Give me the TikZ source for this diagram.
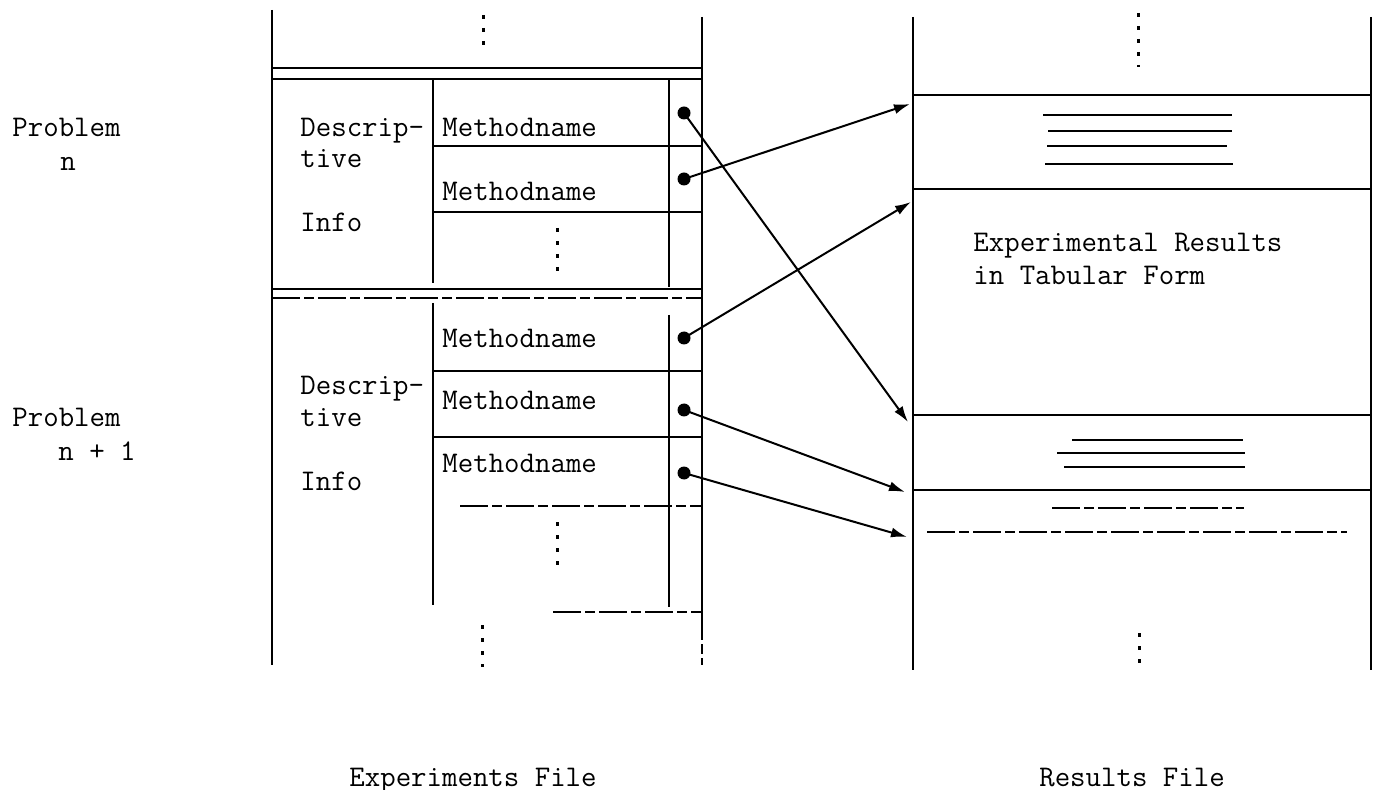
\documentclass[tikz,border=0pt]{standalone}
\usetikzlibrary{arrows.meta,positioning}
\tikzset{
  frame/.style={line width=1.2pt},
  cell/.style={line width=1pt},
  gap/.style={line width=1pt, dash pattern=on 14pt off 2pt on 5pt off 2pt},
  vdots/.style={line width=1.5pt, dash pattern=on 2pt off 4.5pt},
  rule/.style={line width=0.9pt},
  txt/.style={font=\fontsize{15}{18}\selectfont\ttfamily, inner sep=0pt, anchor=base west},
  filecap/.style={txt, anchor=base},
  ptr/.style={circle, fill=black, inner sep=0pt, minimum size=6.5pt},
  ar/.style={-{Latex[length=8pt,width=5pt]}, line width=1pt},
}
\begin{document}
\begin{tikzpicture}[x=0.5pt, y=-0.5pt]
\useasboundingbox (0,0) rectangle (1374,790);

% problem labels
\node[txt] (pN)   at (12,137) {Problem};
\node[txt] (pNn)  at (60,171) {n};
\node[txt] (pM)   at (12,427) {Problem};
\node[txt] (pMn)  at (58,460) {n + 1};

% experiments file
\draw[frame] (272,10) -- (272,665);
\draw[frame] (702,17) -- (702,612);
\draw[gap]   (702,612) -- (702,665);
\draw[vdots] (483,15) -- (483,52);
\draw[cell] (272,68) -- (702,68) (272,79) -- (702,79);
\draw[cell] (433,79) -- (433,283);
\draw[cell] (669,79) -- (669,287);
\draw[cell] (433,146) -- (702,146) (433,212) -- (702,212);
\draw[vdots] (557,228) -- (557,280);
\draw[cell] (272,289) -- (702,289);
\draw[gap]  (272,298) -- (702,298);
\draw[cell] (433,303) -- (433,605);
\draw[cell] (669,315) -- (669,607);
\draw[cell] (433,371) -- (702,371) (433,437) -- (702,437);
\draw[gap]  (460,506) -- (702,506);
\draw[gap]  (553,612) -- (702,612);
\draw[vdots] (557,522) -- (557,572);
\draw[vdots] (482,625) -- (482,667);

\node[txt] (dsA) at (300,137) {Descrip-};
\node[txt] (tvA) at (300,168) {tive};
\node[txt] (inA) at (300,232) {Info};
\node[txt] (mA)  at (442,137) {Methodname};
\node[txt] (mB)  at (442,201) {Methodname};

\node[txt] (dsB) at (300,395) {Descrip-};
\node[txt] (tvB) at (300,427) {tive};
\node[txt] (inB) at (300,490) {Info};
\node[txt] (mC)  at (442,348) {Methodname};
\node[txt] (mD)  at (442,410) {Methodname};
\node[txt] (mE)  at (442,473) {Methodname};

\node[ptr] (dA) at (684,113) {};
\node[ptr] (dB) at (684,179) {};
\node[ptr] (dC) at (684,338) {};
\node[ptr] (dD) at (684,410) {};
\node[ptr] (dE) at (684,473) {};

% results file
\draw[frame] (913,17) -- (913,670);
\draw[frame] (1371,17) -- (1371,670);
\draw[vdots] (1138,13) -- (1138,67);
\draw[cell] (913,95) -- (1371,95) (913,189) -- (1371,189);
\foreach \yy/\xa/\xb in {115/1043/1232, 131/1048/1232, 146/1047/1227, 164/1045/1233}
  \draw[rule] (\xa,\yy) -- (\xb,\yy);
\node[txt] (res) at (973,252) {Experimental Results};
\node[txt] (tab) at (973,285) {in Tabular Form};
\draw[cell] (913,415) -- (1371,415) (913,490) -- (1371,490);
\foreach \yy/\xa/\xb in {440/1072/1243, 453/1057/1245, 467/1064/1245}
  \draw[rule] (\xa,\yy) -- (\xb,\yy);
\draw[gap] (1052,508) -- (1244,508);
\draw[gap] (927,532) -- (1347,532);
\draw[vdots] (1139,633) -- (1139,667);

\coordinate (tA) at (908,422);
\coordinate (tB) at (910,104);
\coordinate (tC) at (911,202);
\coordinate (tD) at (905,492);
\coordinate (tE) at (907,537);

\draw[ar] (dA.center) -- (tA);
\draw[ar] (dB.center) -- (tB);
\draw[ar] (dC.center) -- (tC);
\draw[ar] (dD.center) -- (tD);
\draw[ar] (dE.center) -- (tE);

\node[filecap] (expf) at (473,786) {Experiments File};
\node[filecap] (resf) at (1132,786) {Results File};

\end{tikzpicture}
\end{document}
